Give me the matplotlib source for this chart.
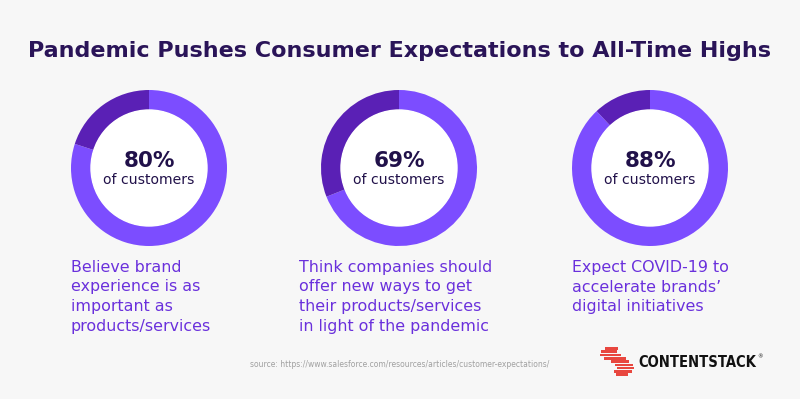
import matplotlib
matplotlib.use("Agg")
import matplotlib.pyplot as plt
from matplotlib.patches import Circle, Rectangle

plt.rcParams['font.family'] = ['DejaVu Sans']

title = "Pandemic Pushes Consumer Expectations to All-Time Highs"
percents = [80, 69, 88]
center_label = "of customers"
captions = [
    ["Believe brand", "experience is as", "important as", "products/services"],
    ["Think companies should", "offer new ways to get", "their products/services", "in light of the pandemic"],
    ["Expect COVID-19 to", "accelerate brands\u2019", "digital initiatives"],
]
source = "source: https://www.salesforce.com/resources/articles/customer-expectations/"
brand = "CONTENTSTACK"

W, H = 800, 399
BG = '#f7f7f7'
LIGHT = '#7c4dff'
DARK = '#5a20b5'
TITLE_C = '#2a1458'
NUM_C = '#21114a'
CAP_C = '#6a30dc'

fig = plt.figure(figsize=(8, 3.99), dpi=100, facecolor=BG)
ax = fig.add_axes([0, 0, 1, 1])
ax.set_xlim(0, W)
ax.set_ylim(0, H)
ax.axis('off')
ax.set_facecolor(BG)

fig.canvas.draw()
renderer = fig.canvas.get_renderer()


def fitted(x, ytop, s, target, size0=12, **kw):
    t = ax.text(x, H - ytop, s, fontsize=size0, **kw)
    w = t.get_window_extent(renderer).width
    t.set_fontsize(size0 * target / w)
    return t


def fit_size(s, target, size0=12, **kw):
    t = ax.text(0, 0, s, fontsize=size0, **kw)
    w = t.get_window_extent(renderer).width
    t.remove()
    return size0 * target / w


# title
fitted(400, 57, title, 740, ha='center', va='baseline', color=TITLE_C, fontweight='bold')

centers_x = [149, 399, 650]
cy = 168
R_out, ring = 78, 20
cap_x = [71, 299, 572]
cap_size = fit_size("their products/services", 182, color=CAP_C)
num_size = fit_size("80%", 51, fontweight='bold')
lab_size = fit_size(center_label, 91)

for i, p in enumerate(percents):
    cx = centers_x[i]
    ax.pie([p, 100 - p], colors=[LIGHT, DARK], startangle=90, counterclock=False,
           center=(cx, H - cy), radius=R_out, frame=True,
           wedgeprops=dict(width=ring, linewidth=0))
    ax.add_patch(Circle((cx, H - cy), R_out - ring, color='white', zorder=3))
    ax.text(cx, H - 167, f"{p}%", ha='center', va='baseline', fontsize=num_size,
            fontweight='bold', color=NUM_C, zorder=4)
    ax.text(cx, H - 184, center_label, ha='center', va='baseline', fontsize=lab_size,
            color=NUM_C, zorder=4)
    for j, line in enumerate(captions[i]):
        ax.text(cap_x[i], H - (272 + 19.5 * j), line, ha='left', va='baseline',
                fontsize=cap_size, color=CAP_C)

ax.set_xlim(0, W)
ax.set_ylim(0, H)
ax.set_aspect('auto')
ax.axis('off')

# source
fitted(250, 367, source, 300, ha='left', va='baseline', color='#a0a0a0')

# logo mark (red stripes)
stripes = [(605, 618, 347), (601, 617, 350.3), (600, 621, 353.6), (604, 626, 356.9),
           (611, 629, 360.2), (615, 633, 363.5), (617, 634, 366.8), (614, 632, 370.1),
           (616, 628, 373.4)]
for x0, x1, y0 in stripes:
    ax.add_patch(Rectangle((x0, H - y0 - 2.6), x1 - x0, 2.6, color='#e8473f', linewidth=0))

fitted(638, 367, brand, 118, ha='left', va='baseline', color='#111111',
       fontweight='bold', fontstretch='condensed')
ax.text(757, H - 357, "\u00ae", fontsize=4, color='#111111', ha='left', va='center')

fig.savefig('out.png', dpi=100, facecolor=BG)
